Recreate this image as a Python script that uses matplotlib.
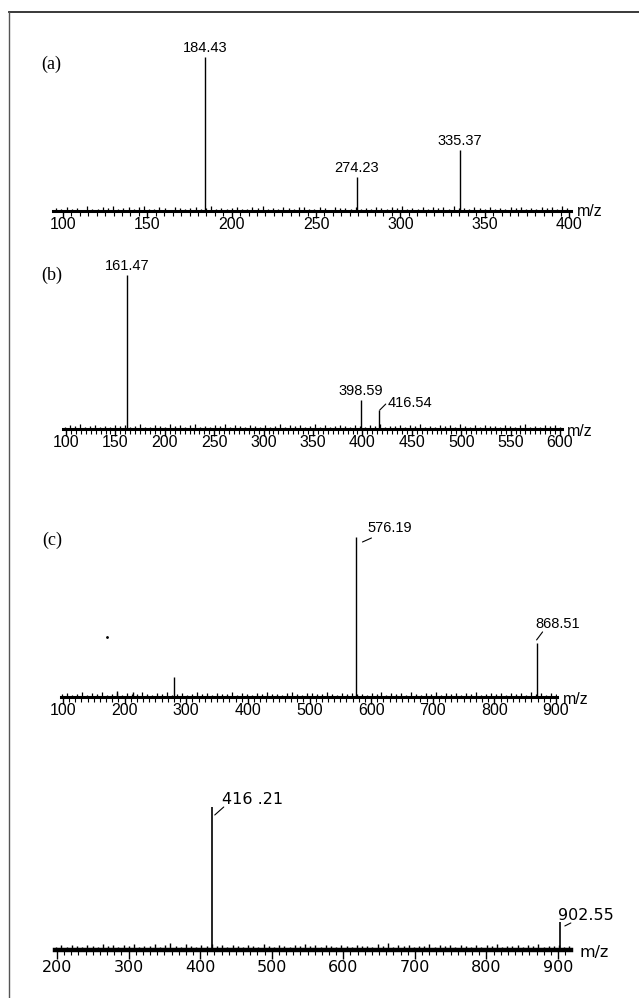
import numpy as np
import matplotlib
matplotlib.use("Agg")
import matplotlib.pyplot as plt
from matplotlib.lines import Line2D
from matplotlib.transforms import offset_copy

# ---- data (relative intensity, base peak = 100) ----
mz_a = [184.43, 274.23, 335.37]
int_a = [100, 22, 39.6]
ticks_a = [100, 150, 200, 250, 300, 350, 400]
noise_a = [1.9, 1.1, 2.6, 1.4, 2.2, 0.9, 3.0, 1.6, 1.2, 2.4, 1.8, 3.2, 1.3, 2.0, 2.8,
           1.0, 2.3, 3.1, 1.6, 1.4, 2.5, 1.9, 0.9, 2.9, 2.1, 1.3, 1.7, 2.7, 1.2, 2.0,
           3.3, 1.5, 2.2, 1.0, 1.9, 2.8, 1.6, 1.3, 2.4, 1.8, 3.0, 1.2, 2.1, 1.5, 2.7,
           1.9, 1.0, 2.3, 2.9, 1.6, 1.3, 2.5, 2.0, 0.9, 2.8, 1.8, 2.1, 1.5, 2.4, 1.6,
           2.2, 1.1, 2.9, 1.7, 1.4, 2.6, 1.9, 3.1, 1.2, 2.0, 1.6, 2.7, 1.0, 2.3, 1.8,
           2.5, 1.3, 3.0, 1.7, 2.1, 1.1, 2.6, 1.9, 1.4, 2.8, 1.6, 2.2, 1.0, 2.4, 1.8,
           2.9, 1.5, 2.0, 1.2, 2.6, 1.7, 2.3, 1.4, 3.2, 1.9]

mz_b = [161.47, 398.59, 416.54]
int_b = [100, 18.8, 12.3]
ticks_b = [100, 150, 200, 250, 300, 350, 400, 450, 500, 550, 600]
noise_b = [1.4, 2.3, 1.7, 3.0, 1.1, 2.0, 2.7, 1.5, 2.2, 1.2, 2.9, 1.8, 2.4, 1.3, 1.9,
           3.2, 1.6, 1.0, 2.6, 2.1, 1.5, 3.0, 1.9, 2.5, 1.2, 2.3, 3.4, 1.6, 2.0, 1.4,
           2.8, 1.8, 3.1, 1.5, 2.4, 1.9, 1.1, 2.9, 2.2, 1.6, 2.6, 1.2, 2.0, 3.0, 1.5,
           2.3, 1.8, 2.7, 1.3, 2.2, 3.1, 1.6, 2.4, 1.2, 1.9, 2.9, 2.0, 1.5, 2.5, 1.8,
           1.3, 2.6, 1.9, 3.3, 1.4, 2.1, 1.7, 2.8, 1.2, 2.4, 1.9, 3.0, 1.5, 2.2, 1.1,
           2.7, 1.8, 2.3, 1.4, 3.1, 2.0, 1.6, 2.5, 1.2, 2.9, 1.7, 2.2, 1.5, 2.8, 1.9,
           1.3, 2.4, 3.0, 1.6, 2.1, 1.4, 2.6, 1.8, 2.3, 1.5]

mz_c = [576.19, 868.51, 280.0, 188.0, 214.0]
int_c = [100, 33.8, 12.5, 3.8, 3.1]
lab_c = ["576.19", "868.51"]
ticks_c = [100, 200, 300, 400, 500, 600, 700, 800, 900]
stray_c = (171, 37.5)
noise_c = [1.6, 2.6, 1.2, 2.0, 2.9, 1.5, 2.2, 1.8, 3.1, 1.3, 2.1, 2.5, 1.0, 2.8, 1.9,
           1.6, 3.0, 2.0, 1.3, 2.4, 1.8, 3.2, 1.5, 2.1, 2.6, 1.2, 1.9, 2.9, 1.6, 2.2,
           1.3, 2.8, 2.0, 1.8, 3.1, 1.5, 2.4, 1.9, 1.2, 2.6, 2.1, 3.0, 1.6, 2.0, 1.5,
           2.5, 2.9, 1.8, 1.3, 2.2, 2.8, 1.9, 1.6, 3.1, 2.1, 1.5, 2.4, 1.8, 2.6, 1.6,
           2.0, 1.4, 2.7, 1.9, 3.2, 1.3, 2.3, 1.7, 2.5, 1.1, 2.9, 2.0, 1.5, 2.6, 1.8,
           3.0, 1.4, 2.2, 1.9, 2.7, 1.2, 2.4, 1.7, 3.1, 1.5, 2.1, 2.8, 1.6, 2.3, 1.3,
           2.6, 1.9, 2.2, 1.4, 3.0, 1.8, 2.5, 1.2, 2.7, 2.0]

mz_d = [416.21, 902.55]
int_d = [100, 19.6]
lab_d = ["416 .21", "902.55"]
ticks_d = [200, 300, 400, 500, 600, 700, 800, 900]
noise_d = [2.4, 3.3, 1.9, 3.8, 2.7, 2.1, 3.5, 2.8, 2.0, 4.1, 2.5, 3.2, 1.8, 3.6, 2.6,
           4.4, 2.2, 3.1, 2.8, 3.9, 2.0, 3.4, 5.2, 2.6, 2.3, 4.2, 3.0, 2.1, 3.7, 2.7,
           4.0, 2.5, 3.3, 1.9, 3.8, 2.8, 2.2, 3.5, 3.1, 2.0, 3.9, 2.6, 2.3, 3.4, 3.0,
           2.1, 3.7, 2.7, 4.1, 2.5, 3.2, 2.2, 3.5, 2.8, 2.0, 3.8, 3.1, 2.3, 3.3, 2.6,
           3.0, 2.2, 3.9, 2.5, 4.6, 2.1, 3.3, 2.8, 3.6, 2.0, 3.1, 2.6, 4.0, 2.3, 3.4,
           2.7, 3.8, 2.1, 3.2, 2.9, 2.4, 3.7, 2.0, 3.5, 2.6, 4.2, 2.3, 3.0, 2.8, 3.6,
           2.2, 3.4, 2.7, 3.9, 2.1, 3.1, 2.5, 3.6, 2.4, 3.0]

W, H = 639, 998
fig = plt.figure(figsize=(W / 100, H / 100), dpi=100)
fig.patch.set_facecolor("white")

# frame (only top and left edges show in the scan)
fig.add_artist(Line2D([9 / W, 1], [1 - 12 / H] * 2, color="#2a2a2a", lw=1.3))
fig.add_artist(Line2D([9 / W] * 2, [1 - 12 / H, 0], color="#555555", lw=1.0))


def px2pt(p):
    return p * 0.72


def panel(cal, xlim, base, top):
    x0, p0, x1, p1 = cal
    s = (p1 - p0) / (x1 - x0)
    left = p0 + (xlim[0] - x0) * s
    right = p0 + (xlim[1] - x0) * s
    ax = fig.add_axes([left / W, 1 - base / H, (right - left) / W, top / H])
    ax.set_xlim(*xlim)
    ax.set_ylim(0, 100)
    ax.patch.set_alpha(0)
    for k in ["top", "left", "right"]:
        ax.spines[k].set_visible(False)
    ax.set_yticks([])
    return ax


def style_axis(ax, ticks, minor, font, size, major_len, minor_len, spine_lw, pad):
    ax.spines["bottom"].set_linewidth(spine_lw)
    ax.set_xticks(ticks)
    ax.set_xticklabels([str(t) for t in ticks], family=font, fontsize=size)
    ax.set_xticks(np.arange(ticks[0], ax.get_xlim()[1], minor), minor=True)
    ax.tick_params(axis="x", which="major", length=px2pt(major_len), width=1.0,
                   direction="out", pad=pad, color="k")
    ax.tick_params(axis="x", which="minor", length=px2pt(minor_len), width=0.8,
                   direction="out", color="k")


def stems(ax, xs, hs, lw=1.0):
    ax.vlines(xs, 0, hs, color="k", lw=lw)


def noise(ax, vals, lw=0.9):
    xs = np.linspace(ax.get_xlim()[0] + 2, ax.get_xlim()[1] - 2, len(vals))
    ax.vlines(xs, 0, vals, color="k", lw=lw)


def label(ax, text, x, h, dx, dy, font, size, ha="center"):
    ax.annotate(text, xy=(x, h), xytext=(dx, dy), textcoords="offset pixels",
                ha=ha, va="center", family=font, fontsize=size,
                annotation_clip=False)


def leader(ax, x, h, a, b):
    t1 = offset_copy(ax.transData, fig=fig, x=a[0], y=a[1], units="dots")
    t2 = offset_copy(ax.transData, fig=fig, x=b[0], y=b[1], units="dots")
    ax.annotate("", xy=(x, h), xycoords=t2, xytext=(x, h), textcoords=t1,
                arrowprops=dict(arrowstyle="-", lw=0.8, color="k",
                                shrinkA=0, shrinkB=0),
                annotation_clip=False)


def mz(ax, dx, dy, font, size):
    ax.annotate("m/z", xy=(1, 0), xycoords="axes fraction", xytext=(dx, dy),
                textcoords="offset pixels", ha="left", va="center",
                family=font, fontsize=size, annotation_clip=False)


SANS = "Liberation Sans"
SERIF = "Liberation Serif"
WIDE = "DejaVu Sans"

# ---- (a) ----
ax = panel((100, 63, 400, 569), (94, 401), 211, 154)
style_axis(ax, ticks_a, 5, SANS, 11.5, 7, 4.5, 2.2, -1)
noise(ax, noise_a)
stems(ax, mz_a, int_a)
for x, h in zip(mz_a, int_a):
    label(ax, f"{x:.2f}", x, h, 0, 9, SANS, 10.5)
mz(ax, 6, -1, SANS, 11.5)
fig.text(51 / W, 1 - 64 / H, "(a)", family=SERIF, fontsize=13,
         ha="center", va="center")

# ---- (b) ----
ax = panel((100, 66, 600, 560), (97, 602), 429, 154)
style_axis(ax, ticks_b, 5, SANS, 11.5, 7, 4.5, 2.2, -1)
noise(ax, noise_b)
stems(ax, mz_b, int_b)
label(ax, f"{mz_b[0]:.2f}", mz_b[0], int_b[0], 0, 9, SANS, 10.5)
label(ax, f"{mz_b[1]:.2f}", mz_b[1], int_b[1], 0, 9, SANS, 10.5)
leader(ax, mz_b[2], int_b[2], (1, 0), (7, 6))
label(ax, f"{mz_b[2]:.2f}", mz_b[2], int_b[2], 9, 7, SANS, 10.5, ha="left")
mz(ax, 5, -3, SANS, 11.5)
fig.text(52 / W, 1 - 275 / H, "(b)", family=SERIF, fontsize=13,
         ha="center", va="center")

# ---- (c) ----
ax = panel((100, 63, 900, 556), (97, 902), 697, 160)
style_axis(ax, ticks_c, 10, SANS, 11.5, 7, 4.5, 2.2, -1)
noise(ax, noise_c)
stems(ax, mz_c, int_c)
ax.plot([stray_c[0]], [stray_c[1]], "k.", ms=2)
leader(ax, mz_c[0], int_c[0], (6, -5), (15, -1))
label(ax, lab_c[0], mz_c[0], int_c[0], 11, 9, SANS, 10.5, ha="left")
leader(ax, mz_c[1], int_c[1], (0, 3), (6, 11))
label(ax, lab_c[1], mz_c[1], int_c[1], -1, 19, SANS, 10.5, ha="left")
mz(ax, 6, -2, SANS, 11.5)
fig.text(52 / W, 1 - 540 / H, "(c)", family=SERIF, fontsize=13,
         ha="center", va="center")

# ---- (d) ----
ax = panel((200, 57, 900, 558), (197, 918), 950, 143)
style_axis(ax, ticks_d, 10, WIDE, 11.5, 9, 5, 3.2, 1)
noise(ax, noise_d, lw=1.0)
stems(ax, mz_d, int_d, lw=1.2)
leader(ax, mz_d[0], int_d[0], (3, -8), (12, 0))
label(ax, lab_d[0], mz_d[0], int_d[0], 10, 7, WIDE, 11.5, ha="left")
leader(ax, mz_d[1], int_d[1], (5, -4), (11, -1))
label(ax, lab_d[1], mz_d[1], int_d[1], -2, 6, WIDE, 11.5, ha="left")
mz(ax, 9, -3, WIDE, 11.5)

fig.savefig("out.png", dpi=100, facecolor="white")
